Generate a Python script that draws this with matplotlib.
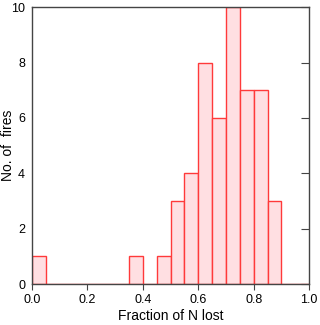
import matplotlib
matplotlib.use("Agg")
import matplotlib.pyplot as plt
import numpy as np

plt.rcParams['font.family'] = ['Liberation Sans', 'DejaVu Sans']

# histogram bins (left edges, width 0.05) and counts
bin_left = [0.00, 0.05, 0.10, 0.15, 0.20, 0.25, 0.30, 0.35, 0.40, 0.45,
            0.50, 0.55, 0.60, 0.65, 0.70, 0.75, 0.80, 0.85, 0.90, 0.95]
counts = [1, 0, 0, 0, 0, 0, 0, 1, 0, 1,
          3, 4, 8, 6, 10, 7, 7, 3, 0, 0]
bin_width = 0.05

fig = plt.figure(figsize=(3.2, 3.25), dpi=100)
ax = fig.add_axes([0.1, 0.126, 0.866, 0.852])

ax.bar(bin_left, counts, width=bin_width, align='edge',
       facecolor='#ffdfe2', edgecolor='#ff3a3a', linewidth=1.0)

ax.set_xlim(0, 1.0)
ax.set_ylim(0, 10)
ax.set_xticks(np.arange(0, 1.01, 0.2))
ax.set_xticklabels(['0.0', '0.2', '0.4', '0.6', '0.8', '1.0'])
ax.set_yticks([0, 2, 4, 6, 8, 10])
ax.set_xlabel('Fraction of N lost', fontsize=10, labelpad=2)
ax.set_ylabel('No. of  fires', fontsize=10)
ax.yaxis.set_label_coords(-0.062, 0.5)

for s in ax.spines.values():
    s.set_color('#444444')
    s.set_linewidth(1.0)
ax.tick_params(axis='x', direction='out', length=4, color='#444444', labelsize=9)
ax.tick_params(axis='y', direction='in', length=6, color='#444444', labelsize=9,
               left=False, right=True, pad=5)

fig.savefig('out.png', dpi=100)
